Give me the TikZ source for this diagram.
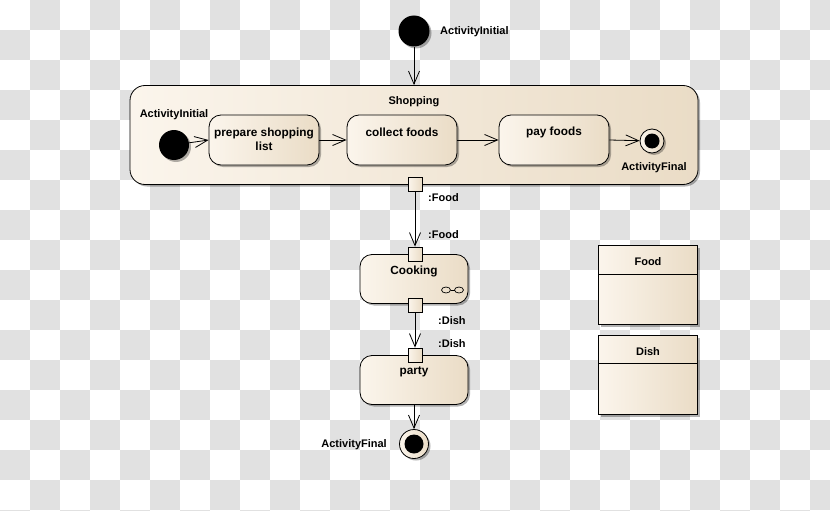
\documentclass[tikz,border=0pt]{standalone}
\usepackage{fontspec}
\setmainfont{Liberation Sans}
\usetikzlibrary{arrows.meta,shadows,calc}
\definecolor{chk}{RGB}{225,225,225}
\definecolor{cremeL}{RGB}{251,245,236}
\definecolor{cremeR}{RGB}{234,220,198}
\tikzset{
  every node/.style={font=\bfseries\fontsize{11}{12}\selectfont, inner sep=0pt},
  acttext/.style={font=\bfseries\fontsize{11.8}{14.5}\selectfont},
  umlfill/.style={left color=cremeL, right color=cremeR},
  dshadow/.style={drop shadow={shadow xshift=2pt, shadow yshift=-2pt, fill=black, opacity=0.3}},
  action/.style={draw, line width=0.8pt, rounded corners=12pt, umlfill, dshadow, minimum width=110pt, minimum height=50pt},
  pinbox/.style={draw, line width=0.8pt, umlfill, minimum size=14pt},
  initnode/.style={circle, fill=black, minimum size=31pt, dshadow},
  finalouter/.style={circle, draw, line width=0.8pt, umlfill, dshadow},
  finalinner/.style={circle, fill=black},
  classbox/.style={draw, line width=0.8pt, umlfill, dshadow, minimum width=99pt, minimum height=79pt},
  flow/.style={draw, line width=0.8pt, -{Straight Barb[length=13pt,width=11pt,line width=0.8pt]}},
}
\begin{document}
\begin{tikzpicture}[x=1pt, y=-1pt]
\useasboundingbox (0,0) rectangle (830,511);
% checkerboard background
\begin{scope}
\clip (0,0) rectangle (830,511);
\fill[white] (0,0) rectangle (830,511);
\foreach \i in {0,...,27}{
  \foreach \j in {0,...,17}{
    \pgfmathtruncatemacro\chkpar{mod(\i+\j,2)}
    \ifnum\chkpar=1 \fill[chk] (\i*30,\j*30) rectangle ++(30,30); \fi
  }
}
\end{scope}

% top initial
\node[initnode] (init1) at (414,31) {};
\node[anchor=west] (init1L) at (440,32) {ActivityInitial};

% Shopping container
\node[draw, line width=0.8pt, rounded corners=15pt, umlfill, dshadow, minimum width=568pt, minimum height=99pt] (shop) at (414,135) {};
\node (shopT) at (414,101.5) {Shopping};

\node[initnode, minimum size=30pt] (init2) at (174,145) {};
\node (init2L) at (174,114.5) {ActivityInitial};

\node[action] (prep) at (264,140) {};
\node[align=center, acttext] (prepT) at (264,139.5) {prepare shopping\\list};
\node[action] (coll) at (402,140) {};
\node[acttext] (collT) at (402,132) {collect foods};
\node[action] (pay) at (554,140) {};
\node[acttext] (payT) at (554,132) {pay foods};

\node[finalouter, minimum size=24pt] (fin1) at (652,141) {};
\node[finalinner, minimum size=15pt] (fin1i) at (fin1) {};
\node (fin1L) at (654,168) {ActivityFinal};

\draw[flow] (init2) -- (prep.west);
\draw[flow] (prep) -- (coll);
\draw[flow] (coll) -- (pay);
\draw[flow] (pay.east) -- (fin1);
\draw[flow] (init1) -- (shop.north);

% pins and actions below
\node[pinbox] (pinS) at (415,184) {};
\node[anchor=west] (pinSL) at (428,198) {:Food};

\node[action, minimum width=108pt, minimum height=49pt] (cook) at (414,279) {};
\node[acttext] (cookT) at (414,271) {Cooking};
\draw[line width=0.7pt] (446,290) ellipse (4.5pt and 3pt);
\draw[line width=0.7pt] (459,290) ellipse (4.5pt and 3pt);
\draw[line width=0.7pt] (450.5,290) -- (454.5,290);

\node[pinbox] (pinC1) at (415,254) {};
\node[anchor=west] (pinC1L) at (428,235) {:Food};
\node[pinbox] (pinC2) at (415,305) {};
\node[anchor=west] (pinC2L) at (438,321) {:Dish};

\node[action, minimum width=108pt, minimum height=49pt] (party) at (414,380) {};
\node[acttext] (partyT) at (414,372) {party};
\node[pinbox] (pinP) at (415,355) {};
\node[anchor=west] (pinPL) at (438,344) {:Dish};

\node[finalouter, minimum size=29pt] (fin2) at (414,444) {};
\node[finalinner, minimum size=19pt] (fin2i) at (fin2) {};
\node[anchor=east] (fin2L) at (387,445) {ActivityFinal};

\draw[flow] (pinS) -- (pinC1);
\draw[flow] (pinC2) -- (pinP);
\draw[flow] (party) -- (fin2);

% classes
\node[classbox] (food) at (648,285) {};
\draw[line width=0.8pt] ($(food.north west)+(0,29)$) -- ($(food.north east)+(0,29)$);
\node (foodT) at (648,262) {Food};
\node[classbox] (dish) at (648,375) {};
\draw[line width=0.8pt] ($(dish.north west)+(0,28)$) -- ($(dish.north east)+(0,28)$);
\node (dishT) at (648,352) {Dish};
\end{tikzpicture}
\end{document}
